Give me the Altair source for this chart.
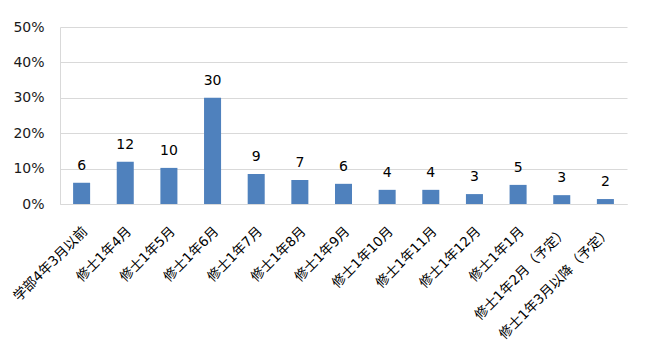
import altair as alt
import pandas as pd

categories = ["学部4年3月以前", "修士1年4月", "修士1年5月", "修士1年6月", "修士1年7月",
              "修士1年8月", "修士1年9月", "修士1年10月", "修士1年11月", "修士1年12月",
              "修士1年1月", "修士1年2月（予定）", "修士1年3月以降（予定）"]
percents = [6.0, 11.9, 10.2, 30.0, 8.5, 6.8, 5.7, 4.0, 4.0, 2.8, 5.4, 2.5, 1.4]
counts = [6, 12, 10, 30, 9, 7, 6, 4, 4, 3, 5, 3, 2]

df = pd.DataFrame({"cat": categories, "pct": [p / 100 for p in percents], "n": counts})

FONT = "DejaVu Sans, Noto Sans CJK JP"

x = alt.X("cat:N", sort=categories, title=None,
          scale=alt.Scale(paddingInner=0.61, paddingOuter=0.3),
          axis=alt.Axis(labelAngle=-45, labelFontSize=13.5, labelFont=FONT, labelColor="#000000",
                        ticks=False, domainColor="#D9D9D9", labelPadding=20, labelOffset=-1,
                        labelLimit=300))
y = alt.Y("pct:Q", title=None,
          scale=alt.Scale(domain=[0, 0.5]),
          axis=alt.Axis(format=".0%", values=[0, 0.1, 0.2, 0.3, 0.4, 0.5], labelFontSize=14,
                        labelFont=FONT, labelColor="#1a1a1a", ticks=False, domainColor="#D9D9D9",
                        gridColor="#D9D9D9", labelPadding=16))

bars = alt.Chart(df).mark_bar(color="#4F81BD").encode(x=x, y=y)
labels = alt.Chart(df).mark_text(baseline="bottom", dy=-10, fontSize=14, font=FONT,
                                 color="#000000").encode(x=x, y=y, text="n:Q")

chart = (bars + labels).properties(
    width=567, height=177,
    autosize=alt.AutoSizeParams(type="none"),
    padding={"left": 52, "top": 19, "right": 15, "bottom": 140},
).configure_view(stroke=None)

chart.save("out.html", embed_options={"renderer": "svg", "actions": False})
